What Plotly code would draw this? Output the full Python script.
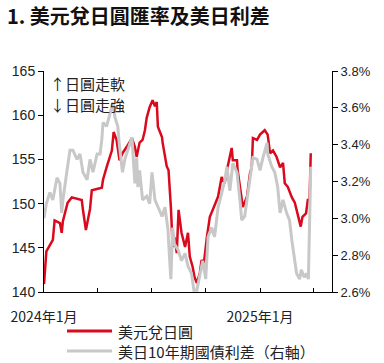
import plotly.graph_objects as go

# USD/JPY (left axis)
jpy_dates = ["2024-01-01","2024-01-03","2024-01-05","2024-01-16","2024-01-19","2024-01-28","2024-01-31","2024-02-02",
             "2024-02-10","2024-02-17","2024-03-05","2024-03-07","2024-03-12","2024-03-19","2024-03-22","2024-04-08",
             "2024-04-10","2024-04-16","2024-04-25","2024-04-28","2024-05-03","2024-05-08","2024-05-13","2024-05-20",
             "2024-05-29","2024-06-03","2024-06-06","2024-06-11","2024-06-16","2024-06-20","2024-06-23","2024-06-28",
             "2024-07-03","2024-07-07","2024-07-10","2024-07-12","2024-07-19","2024-07-20","2024-07-27","2024-07-30",
             "2024-08-03","2024-08-06","2024-08-09","2024-08-13","2024-08-16","2024-08-21","2024-08-27","2024-09-01",
             "2024-09-04","2024-09-09","2024-09-12","2024-09-16","2024-09-21","2024-09-24","2024-09-28","2024-10-03",
             "2024-10-08","2024-10-13","2024-10-22","2024-10-28","2024-11-02","2024-11-07","2024-11-14","2024-11-16",
             "2024-11-23","2024-11-24","2024-11-29","2024-12-03","2024-12-10","2024-12-15","2024-12-18","2024-12-20",
             "2024-12-27","2025-01-01","2025-01-09","2025-01-14","2025-01-18","2025-01-23","2025-01-29","2025-02-04",
             "2025-02-09","2025-02-12","2025-02-17","2025-02-24","2025-03-01","2025-03-06","2025-03-11","2025-03-14",
             "2025-03-20","2025-03-23","2025-03-26","2025-03-28"]
jpy_values = [140.9,143.0,144.6,145.9,148.1,147.8,146.7,148.0,
              150.1,150.7,150.4,149.3,147.0,149.4,151.5,151.8,
              152.7,154.1,156.0,158.1,157.2,154.9,155.7,156.4,
              157.4,156.4,155.3,156.9,157.2,158.3,159.7,160.9,
              161.7,161.0,161.5,158.7,157.5,156.9,154.2,153.8,
              149.6,145.1,146.2,144.4,149.3,146.7,145.1,146.7,
              144.0,142.8,141.7,141.0,142.1,143.6,143.3,146.2,
              148.5,149.3,150.8,153.0,152.3,154.1,156.3,154.9,
              154.9,153.8,151.2,149.6,150.8,153.4,154.1,157.4,
              157.2,157.8,158.3,157.8,155.7,156.0,155.3,154.1,
              154.6,152.3,151.9,150.7,150.1,148.9,147.4,148.5,
              148.9,150.4,150.4,155.7]

# US-JP 10Y yield spread, % (right axis)
spread_dates = ["2024-01-01","2024-01-05","2024-01-11","2024-01-16","2024-01-23","2024-01-28","2024-01-31","2024-02-02",
                "2024-02-09","2024-02-14","2024-02-19","2024-02-26","2024-03-02","2024-03-07","2024-03-14","2024-03-19",
                "2024-03-24","2024-03-31","2024-04-05","2024-04-08","2024-04-10","2024-04-16","2024-04-22","2024-04-27",
                "2024-04-30","2024-05-05","2024-05-08","2024-05-13","2024-05-17","2024-05-22","2024-05-29","2024-06-03",
                "2024-06-06","2024-06-08","2024-06-11","2024-06-16","2024-06-23","2024-06-28","2024-07-02","2024-07-07",
                "2024-07-12","2024-07-19","2024-07-24","2024-07-27","2024-07-29","2024-08-01","2024-08-03","2024-08-06",
                "2024-08-09","2024-08-15","2024-08-21","2024-08-27","2024-09-01","2024-09-07","2024-09-11","2024-09-16",
                "2024-09-21","2024-09-26","2024-10-01","2024-10-05","2024-10-11","2024-10-16","2024-10-22","2024-10-28",
                "2024-11-02","2024-11-06","2024-11-11","2024-11-16","2024-11-23","2024-11-28","2024-12-01","2024-12-06",
                "2024-12-10","2024-12-15","2024-12-20","2024-12-27","2025-01-01","2025-01-06","2025-01-13","2025-01-14",
                "2025-01-21","2025-01-26","2025-01-31","2025-02-04","2025-02-09","2025-02-15","2025-02-20","2025-02-24",
                "2025-03-01","2025-03-04","2025-03-09","2025-03-12","2025-03-17","2025-03-21","2025-03-24","2025-03-28"]
spread_values = [3.00,3.08,3.14,3.10,3.22,3.19,3.03,3.10,
                 3.26,3.37,3.37,3.32,3.35,3.25,3.21,3.32,
                 3.25,3.35,3.35,3.43,3.52,3.50,3.57,3.63,
                 3.55,3.50,3.39,3.25,3.32,3.37,3.44,3.19,
                 3.33,3.17,3.26,3.10,3.12,3.08,3.25,3.10,
                 3.06,3.01,3.06,2.99,2.94,2.77,2.67,2.95,
                 2.86,2.83,2.77,2.81,2.74,2.70,2.61,2.61,
                 2.70,2.77,2.67,2.90,2.95,2.90,3.06,3.14,
                 3.20,3.28,3.15,3.30,3.25,3.10,2.99,3.01,
                 3.10,3.21,3.33,3.32,3.26,3.33,3.41,3.35,
                 3.28,3.25,3.17,3.03,3.10,3.03,2.99,2.88,
                 2.77,2.70,2.67,2.72,2.68,2.70,2.67,3.28]

tick_dates = ["2024-01-01","2024-04-01","2024-07-01","2024-10-01","2025-01-01","2025-04-01"]
tick_labels = ["2024年1月","","","","2025年1月",""]
left_ticks = [140,145,150,155,160,165]
right_ticks = [2.6,2.8,3.0,3.2,3.4,3.6,3.8]
right_labels = ["2.6%","2.8%","3.0%","3.2%","3.4%","3.6%","3.8%"]

title_text = "1. 美元兌日圓匯率及美日利差"
name_jpy = "美元兌日圓"
name_spread = "美日10年期國債利差（右軸）"
note_up = "↑日圓走軟"
note_down = "↓日圓走強"

RED = "#DA0A1E"
GRAY = "#C8C8C8"

fig = go.Figure()
fig.add_trace(go.Scatter(x=jpy_dates, y=jpy_values, name=name_jpy, mode="lines",
                         line=dict(color=RED, width=2.5), yaxis="y", showlegend=False))
fig.add_trace(go.Scatter(x=spread_dates, y=spread_values, name=name_spread, mode="lines",
                         line=dict(color=GRAY, width=3), yaxis="y2", showlegend=False))

font_cjk = "Noto Sans CJK TC"
font_num = "Liberation Sans, Arial, sans-serif"

# plot area: x 44..332 px, y 71..292 px
def px_x(p):
    return (p - 44) / 288.0

def px_y(p):
    return (292 - p) / 221.0

shapes = [
    dict(type="line", xref="paper", yref="paper", x0=px_x(67), x1=px_x(112), y0=px_y(331), y1=px_y(331),
         line=dict(color=RED, width=3)),
    dict(type="line", xref="paper", yref="paper", x0=px_x(67), x1=px_x(112), y0=px_y(351), y1=px_y(351),
         line=dict(color=GRAY, width=3)),
]

annotations = [
    dict(text="<b>" + title_text + "</b>", x=px_x(5), y=px_y(15), xref="paper", yref="paper",
         xanchor="left", yanchor="middle", showarrow=False,
         font=dict(family=font_cjk, size=20, color="#111")),
    dict(text=note_up, x=px_x(48), y=px_y(83), xref="paper", yref="paper", xanchor="left", yanchor="middle",
         showarrow=False, font=dict(family=font_cjk, size=15, color="#222")),
    dict(text=note_down, x=px_x(48), y=px_y(104), xref="paper", yref="paper", xanchor="left", yanchor="middle",
         showarrow=False, font=dict(family=font_cjk, size=15, color="#222")),
    dict(text=name_jpy, x=px_x(116), y=px_y(331), xref="paper", yref="paper", xanchor="left", yanchor="middle",
         showarrow=False, font=dict(family=font_cjk, size=15, color="#222")),
    dict(text=name_spread, x=px_x(116), y=px_y(351), xref="paper", yref="paper", xanchor="left", yanchor="middle",
         showarrow=False, font=dict(family=font_cjk, size=15, color="#222")),
]

fig.update_layout(
    width=384, height=363,
    margin=dict(l=44, r=52, t=71, b=71, autoexpand=False),
    paper_bgcolor="white", plot_bgcolor="white",
    font=dict(family=font_num, size=12, color="#222"),
    showlegend=False,
    xaxis=dict(type="date", range=["2024-01-01", "2025-05-03"], automargin=False,
               tickmode="array", tickvals=tick_dates, ticktext=tick_labels,
               ticks="inside", ticklen=4, tickcolor="#000", ticklabelstandoff=12,
               showline=True, linecolor="#000", linewidth=1, showgrid=False, zeroline=False,
               tickfont=dict(family=font_cjk, size=14, color="#222")),
    yaxis=dict(range=[140, 165], tickmode="array", tickvals=left_ticks, automargin=False,
               ticks="outside", ticklen=5, tickcolor="#000",
               showline=True, linecolor="#000", linewidth=1, showgrid=False, zeroline=False,
               tickfont=dict(size=14)),
    yaxis2=dict(range=[2.6, 3.8], overlaying="y", side="right", tickmode="array", automargin=False,
                tickvals=right_ticks, ticktext=right_labels,
                ticks="outside", ticklen=5, tickcolor="#000",
                showline=True, linecolor="#000", linewidth=1, showgrid=False, zeroline=False,
                tickfont=dict(size=13)),
    shapes=shapes,
    annotations=annotations,
)

fig.write_html("out.html", config={"displayModeBar": False},
               post_script="document.body.style.margin='0';")
